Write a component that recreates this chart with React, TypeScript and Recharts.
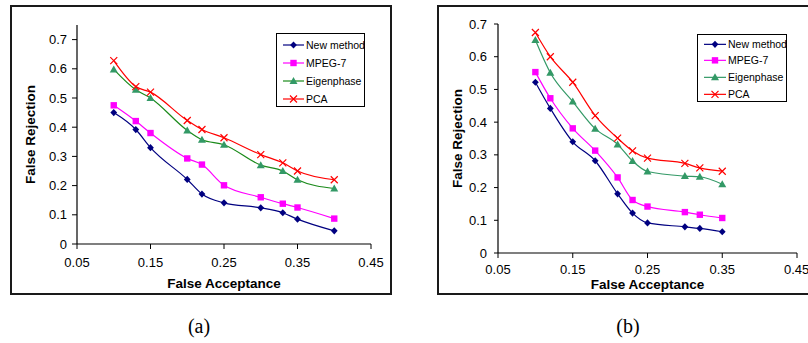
import { LineChart, Line, XAxis, YAxis, Legend, Label } from "recharts";

// panel (a)
const faA = [0.1, 0.13, 0.15, 0.2, 0.22, 0.25, 0.3, 0.33, 0.35, 0.4];
const newMethodA = [0.45, 0.392, 0.33, 0.221, 0.171, 0.141, 0.124, 0.107, 0.085, 0.045];
const mpeg7A = [0.475, 0.421, 0.38, 0.293, 0.272, 0.201, 0.16, 0.138, 0.125, 0.087];
const eigenA = [0.598, 0.528, 0.5, 0.389, 0.357, 0.34, 0.27, 0.25, 0.22, 0.19];
const pcaA = [0.628, 0.539, 0.52, 0.423, 0.392, 0.364, 0.306, 0.278, 0.25, 0.22];

// panel (b)
const faB = [0.1, 0.12, 0.15, 0.18, 0.21, 0.23, 0.25, 0.3, 0.32, 0.35];
const newMethodB = [0.522, 0.442, 0.34, 0.282, 0.181, 0.122, 0.092, 0.08, 0.075, 0.065];
const mpeg7B = [0.553, 0.473, 0.381, 0.313, 0.231, 0.162, 0.142, 0.125, 0.117, 0.107];
const eigenB = [0.651, 0.551, 0.463, 0.38, 0.332, 0.281, 0.249, 0.235, 0.233, 0.21];
const pcaB = [0.674, 0.6, 0.522, 0.42, 0.351, 0.312, 0.29, 0.274, 0.26, 0.25];

const xTicks = [0.05, 0.15, 0.25, 0.35, 0.45];
const yTicks = [0, 0.1, 0.2, 0.3, 0.4, 0.5, 0.6, 0.7];

const FONT = "'Liberation Sans', Arial, sans-serif";

type Kind = "diamond" | "square" | "triangle" | "x";

interface SeriesDef {
  key: string;
  label: string;
  kind: Kind;
  stroke: string;
  fill: string;
}

const seriesA: SeriesDef[] = [
  { key: "newMethod", label: "New method", kind: "diamond", stroke: "#000080", fill: "#000080" },
  { key: "mpeg7", label: "MPEG-7", kind: "square", stroke: "#ff00ff", fill: "#ff00ff" },
  { key: "eigen", label: "Eigenphase", kind: "triangle", stroke: "#1a8a1a", fill: "#339966" },
  { key: "pca", label: "PCA", kind: "x", stroke: "#ff0000", fill: "#ff0000" },
];

const seriesB: SeriesDef[] = seriesA.map((s) =>
  s.key === "eigen" ? { ...s, stroke: "#339966" } : s
);

function buildRows(fa: number[], nm: number[], mp: number[], eg: number[], pc: number[]) {
  return fa.map((x, i) => ({ fa: x, newMethod: nm[i], mpeg7: mp[i], eigen: eg[i], pca: pc[i] }));
}

const rowsA = buildRows(faA, newMethodA, mpeg7A, eigenA, pcaA);
const rowsB = buildRows(faB, newMethodB, mpeg7B, eigenB, pcaB);

function Marker({ kind, cx, cy, color }: { kind: Kind; cx: number; cy: number; color: string }) {
  if (cx == null || cy == null) return null;
  switch (kind) {
    case "diamond":
      return (
        <polygon
          points={`${cx},${cy - 3.6} ${cx + 3.4},${cy} ${cx},${cy + 3.6} ${cx - 3.4},${cy}`}
          fill={color}
        />
      );
    case "square":
      return <rect x={cx - 3.2} y={cy - 3.2} width={6.4} height={6.4} fill={color} />;
    case "triangle":
      return (
        <polygon
          points={`${cx},${cy - 4} ${cx + 4},${cy + 3} ${cx - 4},${cy + 3}`}
          fill={color}
        />
      );
    default:
      return (
        <path
          d={`M${cx - 3.5},${cy - 3.5}L${cx + 3.5},${cy + 3.5}M${cx + 3.5},${cy - 3.5}L${cx - 3.5},${cy + 3.5}`}
          stroke={color}
          strokeWidth={1.2}
          fill="none"
        />
      );
  }
}

interface LegendBox {
  left: number;
  top: number;
  width: number;
  height: number;
  rowH: number;
  padTop: number;
  lineX1: number;
  lineX2: number;
  textX: number;
}

function LegendContent({ series, box }: { series: SeriesDef[]; box: LegendBox }) {
  return (
    <div
      style={{
        width: box.width,
        height: box.height,
        border: "1px solid #000",
        boxSizing: "border-box",
        background: "#fff",
        paddingTop: box.padTop,
        fontFamily: FONT,
        fontSize: 10.5,
        color: "#000",
      }}
    >
      {series.map((s) => (
        <div key={s.key} style={{ position: "relative", height: box.rowH }}>
          <svg width={box.textX} height={box.rowH} style={{ position: "absolute", left: 0, top: 0 }}>
            <line
              x1={box.lineX1}
              x2={box.lineX2}
              y1={box.rowH / 2}
              y2={box.rowH / 2}
              stroke={s.stroke}
              strokeWidth={1.2}
            />
            <Marker
              kind={s.kind}
              cx={(box.lineX1 + box.lineX2) / 2}
              cy={box.rowH / 2}
              color={s.fill}
            />
          </svg>
          <span
            style={{
              position: "absolute",
              left: box.textX,
              top: 0,
              lineHeight: `${box.rowH}px`,
              whiteSpace: "nowrap",
            }}
          >
            {s.label}
          </span>
        </div>
      ))}
    </div>
  );
}

interface PanelProps {
  rows: Record<string, number>[];
  series: SeriesDef[];
  left: number;
  width: number;
  height: number;
  margin: { top: number; right: number; bottom: number; left: number };
  yAxisWidth: number;
  xAxisHeight: number;
  yMax: number;
  yTitleX: number;
  xTitleDy: number;
  xTickMargin: number;
  yTickSize: number;
  yTickMargin: number;
  legend: LegendBox;
}

function Panel(p: PanelProps) {
  const tickStyle = { fontSize: 13, fill: "#000", fontFamily: FONT };
  const titleStyle = { fontSize: 13.5, fontWeight: 700, fill: "#000", fontFamily: FONT };
  return (
    <div style={{ position: "absolute", left: p.left, top: 0 }}>
      <LineChart width={p.width} height={p.height} data={p.rows} margin={p.margin}>
        <XAxis
          dataKey="fa"
          type="number"
          domain={[0.05, 0.45]}
          ticks={xTicks}
          tickFormatter={(v: number) => v.toFixed(2)}
          tick={tickStyle}
          tickSize={5}
          tickMargin={p.xTickMargin}
          height={p.xAxisHeight}
          axisLine={{ stroke: "#000", strokeWidth: 1.2 }}
          tickLine={{ stroke: "#000" }}
          allowDataOverflow
        >
          <Label
            content={(lp: any) => {
              const vb = lp.viewBox;
              return (
                <text
                  x={vb.x + vb.width / 2}
                  y={vb.y + p.xTitleDy}
                  textAnchor="middle"
                  dominantBaseline="central"
                  style={titleStyle}
                >
                  False Acceptance
                </text>
              );
            }}
          />
        </XAxis>
        <XAxis
          xAxisId="top"
          orientation="top"
          type="number"
          domain={[0.05, 0.45]}
          height={0}
          tick={false}
          tickLine={false}
          axisLine={{ stroke: "#a0a0a0" }}
        />
        <YAxis
          type="number"
          domain={[0, p.yMax]}
          ticks={yTicks}
          tickFormatter={(v: number) => (v === 0 ? "0" : String(Number(v.toFixed(1))))}
          tick={tickStyle}
          tickSize={p.yTickSize}
          tickMargin={p.yTickMargin}
          width={p.yAxisWidth}
          axisLine={{ stroke: "#000", strokeWidth: 1.2 }}
          tickLine={{ stroke: "#000" }}
        >
          <Label
            content={(lp: any) => {
              const vb = lp.viewBox;
              const cy = vb.y + vb.height / 2;
              return (
                <text
                  x={p.yTitleX}
                  y={cy}
                  transform={`rotate(-90 ${p.yTitleX} ${cy})`}
                  textAnchor="middle"
                  dominantBaseline="central"
                  style={titleStyle}
                >
                  False Rejection
                </text>
              );
            }}
          />
        </YAxis>
        <YAxis
          yAxisId="right"
          orientation="right"
          domain={[0, p.yMax]}
          width={0}
          tick={false}
          tickLine={false}
          axisLine={{ stroke: "#a0a0a0" }}
        />
        <Legend
          layout="vertical"
          align="center"
          verticalAlign="middle"
          wrapperStyle={{ left: p.legend.left, top: p.legend.top, width: p.legend.width }}
          content={() => <LegendContent series={p.series} box={p.legend} />}
        />
        {p.series.map((s) => (
          <Line
            key={s.key}
            type="monotone"
            dataKey={s.key}
            stroke={s.stroke}
            strokeWidth={1.2}
            isAnimationActive={false}
            dot={(dp: any) => (
              <Marker
                key={`${s.key}-${dp.index}`}
                kind={s.kind}
                cx={dp.cx}
                cy={dp.cy}
                color={s.fill}
              />
            )}
            activeDot={false}
          />
        ))}
      </LineChart>
    </div>
  );
}

export default function App() {
  return (
    <div
      style={{
        position: "absolute",
        left: 0,
        top: 0,
        width: 808,
        height: 343,
        overflow: "hidden",
        background: "#fff",
      }}
    >
      {/* frames */}
      <div
        style={{
          position: "absolute",
          left: 10,
          top: 5,
          width: 382,
          height: 290,
          border: "2px solid #1a1a1a",
          boxSizing: "border-box",
        }}
      />
      <div
        style={{
          position: "absolute",
          left: 437,
          top: 5,
          width: 400,
          height: 290,
          border: "2px solid #1a1a1a",
          boxSizing: "border-box",
        }}
      />
      <Panel
        rows={rowsA}
        series={seriesA}
        left={0}
        width={404}
        height={300}
        margin={{ top: 25, right: 33, bottom: 0, left: 0 }}
        yAxisWidth={77}
        xAxisHeight={56}
        yMax={0.75}
        yTitleX={30}
        xTitleDy={39}
        xTickMargin={9}
        yTickSize={5}
        yTickMargin={5}
        legend={{ left: 276, top: 33, width: 89, height: 74, rowH: 18, padTop: 2, lineX1: 6, lineX2: 27, textX: 29 }}
      />
      <Panel
        rows={rowsB}
        series={seriesB}
        left={404}
        width={404}
        height={300}
        margin={{ top: 24, right: 11, bottom: 0, left: 0 }}
        yAxisWidth={94}
        xAxisHeight={47}
        yMax={0.7}
        yTitleX={53}
        xTitleDy={31}
        xTickMargin={7}
        yTickSize={4}
        yTickMargin={7}
        legend={{ left: 293, top: 34, width: 90, height: 68, rowH: 16.7, padTop: 0.5, lineX1: 6, lineX2: 28, textX: 30 }}
      />
      <div
        style={{
          position: "absolute",
          left: 0,
          width: 398,
          top: 315,
          textAlign: "center",
          fontFamily: "'Liberation Serif', 'Times New Roman', serif",
          fontSize: 20,
          color: "#000",
        }}
      >
        (a)
      </div>
      <div
        style={{
          position: "absolute",
          left: 428,
          width: 400,
          top: 315,
          textAlign: "center",
          fontFamily: "'Liberation Serif', 'Times New Roman', serif",
          fontSize: 20,
          color: "#000",
        }}
      >
        (b)
      </div>
    </div>
  );
}
